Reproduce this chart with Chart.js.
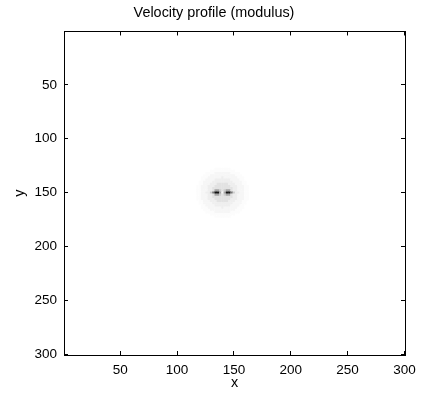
<!DOCTYPE html>
<html>
<head>
<meta charset="utf-8">
<script src="https://cdn.jsdelivr.net/npm/chart.js@4.4.0/dist/chart.umd.min.js"></script>
<style>
html, body { margin: 0; padding: 0; background: #fff; }
</style>
</head>
<body>
<canvas id="myChart" width="428" height="395"></canvas>
<script>
// cell centres (data units) of the region around the vortex pair, rest of the field is ~0
var cellX = [116, 118, 120, 122, 124, 126, 128, 130, 132, 134, 136, 138, 140,
             142, 144, 146, 148, 150, 152, 154, 156, 158, 160, 162, 164];
var cellY = [128, 130, 132, 134, 136, 138, 140, 142, 144, 146, 148, 150,
             152, 154, 156, 158, 160, 162, 164, 166, 168, 170, 172];
var levels = [
  "0000000001111111000000000",
  "0000000111111111110000000",
  "0000011112222222111100000",
  "0000111222222222221110000",
  "0001112222223222222111000",
  "0001122223333333222211000",
  "0011222233333333322221100",
  "0011222333444443332221100",
  "0112223334444444333222110",
  "0112223344444444433222110",
  "0112223346654566433222110",
  "0112233579962699753322110",
  "0112223346654566433222110",
  "0112223344444444433222110",
  "0112223334444444333222110",
  "0011222333444443332221100",
  "0011222233333333322221100",
  "0001122223333333222211000",
  "0001112222223222222111000",
  "0000111222222222221110000",
  "0000011112222222111100000",
  "0000000111111111110000000",
  "0000000001111111000000000"
];
// grey colormap (white = 0)
var levelGrey = [255, 252, 246, 238, 226, 205, 165, 120, 70, 20];
var xTicks = [50, 100, 150, 200, 250, 300];
var yTicks = [50, 100, 150, 200, 250, 300];

var points = [];
var colors = [];
for (var r = 0; r < cellY.length; r++) {
  for (var c = 0; c < cellX.length; c++) {
    var lv = +levels[r][c];
    if (lv == 0) continue;
    points.push({ x: cellX[c], y: cellY[r] });
    var g = levelGrey[lv];
    colors.push("rgb(" + g + "," + g + "," + g + ")");
  }
}

var font = { family: "Liberation Sans", size: 13.5 };
var labelFont = { family: "Liberation Sans", size: 14.4 };
function setTicks(list) {
  return function (scale) {
    scale.ticks = list.map(function (v) { return { value: v }; });
  };
}
var gridOpts = { drawOnChartArea: false, tickLength: -4, color: "#000", tickWidth: 1 };
var borderOpts = { color: "#000", width: 1 };

var ctx = document.getElementById("myChart").getContext("2d");
var myChart = new Chart(ctx, {
  type: "scatter",
  data: {
    datasets: [{
      data: points,
      pointStyle: "rect",
      backgroundColor: colors,
      borderWidth: 0,
      pointRadius: function (c) {
        var s = c.chart.scales.x;
        var w = Math.abs(s.getPixelForValue(2) - s.getPixelForValue(0));
        return (w + 0.3) / Math.SQRT2;
      },
      pointHoverRadius: 0
    }]
  },
  options: {
    responsive: false,
    animation: false,
    layout: { padding: 0 },
    events: [],
    plugins: {
      legend: { display: false },
      tooltip: { enabled: false },
      title: {
        display: true,
        text: "Velocity profile (modulus)",
        color: "#000",
        font: { family: "Liberation Sans", size: 14.4, weight: "normal" },
        padding: { top: 4, bottom: 10.2 }
      }
    },
    scales: {
      x: {
        type: "linear", position: "bottom", min: 0.5, max: 300.5,
        afterBuildTicks: setTicks(xTicks),
        afterFit: function (s) { s.height = 40; },
        grid: gridOpts, border: borderOpts,
        ticks: { color: "#000", font: font, padding: 11, maxRotation: 0 },
        title: { display: true, text: "x", color: "#000", font: labelFont, padding: { top: 0, bottom: 3 } }
      },
      x2: {
        type: "linear", position: "top", min: 0.5, max: 300.5,
        afterBuildTicks: setTicks(xTicks),
        afterFit: function (s) { s.height = 0; },
        grid: gridOpts, border: borderOpts,
        ticks: { display: false }
      },
      y: {
        type: "linear", position: "left", reverse: true, min: 0.5, max: 300.5,
        afterBuildTicks: setTicks(yTicks),
        afterFit: function (s) { s.width = 64; },
        grid: gridOpts, border: borderOpts,
        ticks: { color: "#000", font: font, padding: 11 },
        title: { display: true, text: "y", color: "#000", font: labelFont, padding: { top: 11, bottom: 0 } }
      },
      y2: {
        type: "linear", position: "right", reverse: true, min: 0.5, max: 300.5,
        afterBuildTicks: setTicks(yTicks),
        afterFit: function (s) { s.width = 23; },
        grid: gridOpts, border: borderOpts,
        ticks: { display: false }
      }
    }
  }
});
</script>
</body>
</html>
